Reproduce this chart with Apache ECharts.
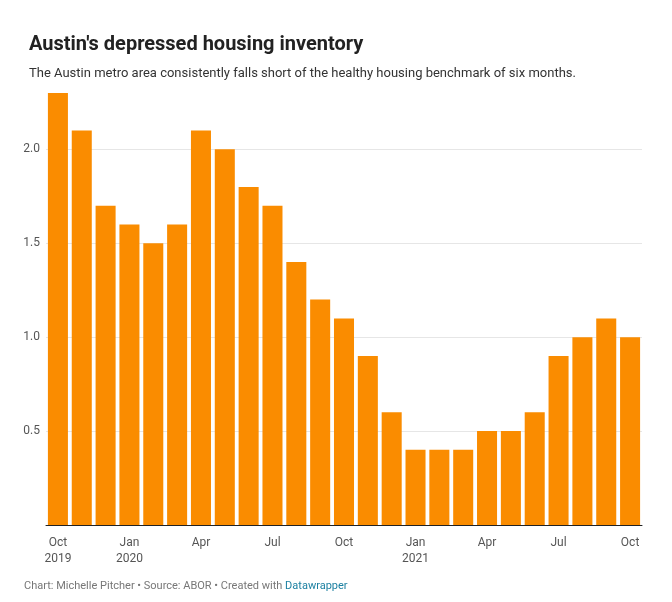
<!DOCTYPE html>
<html><head><meta charset="utf-8">
<script src="https://cdn.jsdelivr.net/npm/echarts@6/dist/echarts.min.js"></script>
<style>html,body{margin:0;padding:0;background:#fff}#c{width:672px;height:602px}</style>
</head><body><div id="c"></div>
<script>
const months = ["Oct","Nov","Dec","Jan","Feb","Mar","Apr","May","Jun","Jul","Aug","Sep","Oct","Nov","Dec","Jan","Feb","Mar","Apr","May","Jun","Jul","Aug","Sep","Oct"];
const years = {0:"2019",3:"2020",15:"2021"};
const values = [2.3,2.1,1.7,1.6,1.5,1.6,2.1,2.0,1.8,1.7,1.4,1.2,1.1,0.9,0.6,0.4,0.4,0.4,0.5,0.5,0.6,0.9,1.0,1.1,1.0];
const chart = echarts.init(document.getElementById('c'));
chart.setOption({
  animation:false,
  textStyle:{fontFamily:'Roboto'},
  title:{left:24,top:30,text:"Austin's depressed housing inventory",
    textStyle:{fontSize:20,fontWeight:'bold',color:'#222',fontFamily:'Roboto'},
    subtext:"The Austin metro area consistently falls short of the healthy housing benchmark of six months.",
    subtextStyle:{fontSize:13,color:'#333',fontFamily:'Roboto'},itemGap:12},
  grid:{left:46,right:30,top:93,bottom:77},
  xAxis:{type:'category',data:months,
    axisLine:{lineStyle:{color:'#222',width:1}},axisTick:{show:false},
    axisLabel:{interval:2,color:'#555',fontSize:12,margin:10,lineHeight:16,
      formatter:(v,i)=>years[i]?v+"\n"+years[i]:v}},
  yAxis:{type:'value',min:0,max:2.3,interval:0.5,
    axisLabel:{color:'#555',fontSize:12,margin:6,showMaxLabel:false,
      formatter:v=>v===0?'':v.toFixed(1)},
    splitLine:{lineStyle:{color:['#e6e6e6','#e6e6e6','#e6e6e6','#e6e6e6','#e6e6e6','transparent']}}},
  series:[{type:'bar',data:values,barCategoryGap:'16%',itemStyle:{color:'#fa8c00'}}],
  graphic:[{type:'text',left:24,top:581,style:{
    text:"{g|Chart: Michelle Pitcher • Source: ABOR • Created with }{b|Datawrapper}",
    rich:{g:{fill:'#777',fontSize:11,fontFamily:'Roboto'},b:{fill:'#1d81a2',fontSize:11,fontFamily:'Roboto'}}}}]
});
</script></body></html>
